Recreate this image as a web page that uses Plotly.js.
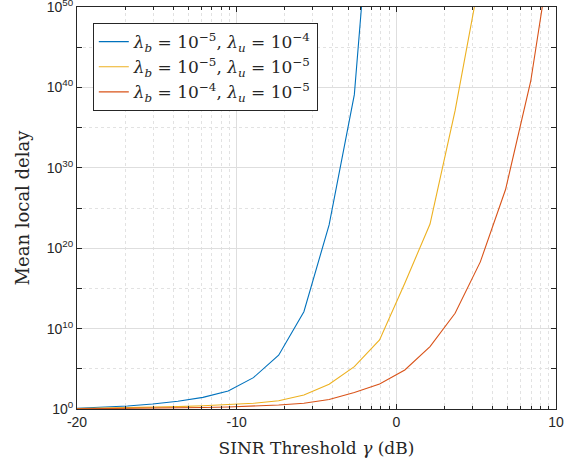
<!DOCTYPE html>
<html>
<head>
<meta charset="utf-8">
<script src="https://cdn.plot.ly/plotly-3.0.1.min.js"></script>
<style>html,body{margin:0;padding:0;background:#fff;}#chart{width:571px;height:465px;}</style>
</head>
<body>
<div id="chart"></div>
<script>
// SINR threshold (dB) sample points
const sinrDb = [-20, -18.42, -16.84, -15.26, -13.68, -12.11, -10.53, -8.95, -7.37, -5.79,
                -4.21, -2.63, -1.05, 0.53, 2.11, 3.68, 5.26, 6.84, 8.42, 10];
// log10 of mean local delay
const logDelayB5U4 = [0.1, 0.25, 0.37, 0.62, 0.96, 1.45, 2.24, 3.9, 6.69, 12.1,
                      22.9, 39.1, 75, 110, 150, 190, 230, 270, 310, 350];
const logDelayB5U5 = [0.05, 0.1, 0.15, 0.22, 0.3, 0.4, 0.54, 0.71, 1.03, 1.74,
                      3.07, 5.27, 8.6, 15.65, 23.0, 37.1, 54, 75, 100, 130];
const logDelayB4U5 = [0.02, 0.04, 0.06, 0.09, 0.13, 0.18, 0.25, 0.35, 0.5, 0.71,
                      1.18, 2.05, 3.11, 4.86, 7.76, 11.9, 18.3, 27.3, 40.8, 61];
const seriesNames = [
  '<i>λ</i><sub><i>b</i></sub> = 10<sup>−5</sup>, <i>λ</i><sub><i>u</i></sub> = 10<sup>−4</sup>',
  '<i>λ</i><sub><i>b</i></sub> = 10<sup>−5</sup>, <i>λ</i><sub><i>u</i></sub> = 10<sup>−5</sup>',
  '<i>λ</i><sub><i>b</i></sub> = 10<sup>−4</sup>, <i>λ</i><sub><i>u</i></sub> = 10<sup>−5</sup>'
];
const seriesColors = ['#0072BD', '#EDB120', '#D95319'];
const xTickVals = [-20, -10, 0, 10];
const yTickExps = [0, 10, 20, 30, 40, 50];

const allLogs = [logDelayB5U4, logDelayB5U5, logDelayB4U5];
const traces = allLogs.map((lg, i) => ({
  x: sinrDb,
  y: lg.map(v => Math.pow(10, v)),
  type: 'scatter',
  mode: 'lines',
  name: seriesNames[i],
  line: {color: seriesColors[i], width: 1.1}
}));

// minor grid positions (log-like spacing inside each 10 dB interval, as in the original)
const xMinor = [];
for (let a = -20; a < 10; a += 10) {
  for (let k = 2; k <= 9; k++) xMinor.push(a + 10 * Math.log10(k));
}
const yMinor = [];
for (let e = 5; e < 50; e += 10) yMinor.push(Math.pow(10, e));

const axisColor = '#262626';
const sans = 'Liberation Sans';
const serif = 'DejaVu Serif';
const layout = {
  width: 571, height: 465,
  margin: {l: 77, r: 15, t: 7, b: 56},
  paper_bgcolor: '#fff', plot_bgcolor: '#fff',
  showlegend: true,
  font: {family: sans, size: 13, color: axisColor},
  xaxis: {
    range: [-20, 10],
    tickmode: 'array', tickvals: xTickVals, ticktext: xTickVals.map(String),
    ticks: 'inside', ticklen: 5, tickcolor: axisColor,
    showline: true, linecolor: axisColor, linewidth: 1, mirror: 'allticks',
    showgrid: true, gridcolor: '#dedede', gridwidth: 1,
    zeroline: false,
    ticklabeloverflow: 'allow',
    tickfont: {family: sans, size: 14, color: axisColor},
    minor: {tickmode: 'array', tickvals: xMinor, ticks: 'inside', ticklen: 3, tickcolor: axisColor,
            showgrid: true, gridcolor: '#e2e2e2', griddash: 'dot', gridwidth: 1},
    title: {text: 'SINR Threshold <i>γ</i> (dB)', standoff: 13,
            font: {family: serif, size: 17, color: axisColor}}
  },
  yaxis: {
    type: 'log', range: [0, 50.0001],
    tickmode: 'array', tickvals: yTickExps.map(e => Math.pow(10, e)),
    ticktext: yTickExps.map(e => '10<sup>' + e + '</sup>'),
    ticks: 'inside', ticklen: 5, tickcolor: axisColor,
    showline: true, linecolor: axisColor, linewidth: 1, mirror: 'allticks',
    showgrid: true, gridcolor: '#dedede', gridwidth: 1,
    zeroline: false,
    ticklabeloverflow: 'allow',
    tickfont: {family: sans, size: 14, color: axisColor},
    minor: {tickmode: 'array', tickvals: yMinor, ticks: 'inside', ticklen: 5, tickcolor: axisColor,
            showgrid: true, gridcolor: '#e2e2e2', griddash: 'dot', gridwidth: 1},
    title: {text: 'Mean local delay', standoff: 12,
            font: {family: serif, size: 18, color: axisColor}}
  },
  legend: {
    x: 0.033, y: 0.96, xanchor: 'left', yanchor: 'top',
    bgcolor: '#ffffff', bordercolor: axisColor, borderwidth: 1,
    font: {family: serif, size: 17, color: axisColor},
    tracegroupgap: 0
  }
};

Plotly.newPlot('chart', traces, layout, {displayModeBar: false, staticPlot: true});
</script>
</body>
</html>
